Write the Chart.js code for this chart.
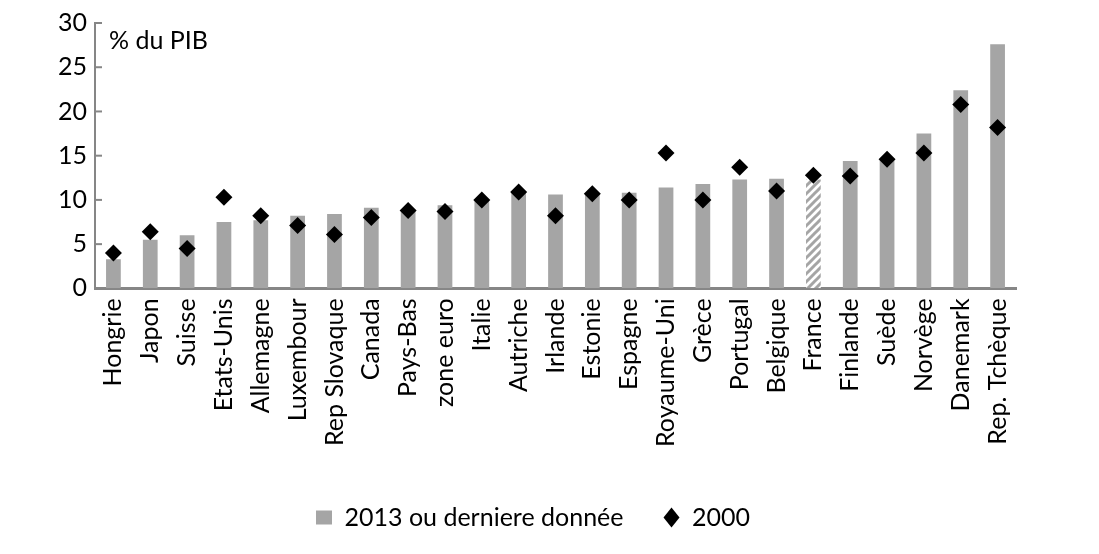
<!DOCTYPE html>
<html>
<head>
<meta charset="utf-8">
<style>
  html, body { margin: 0; padding: 0; background: #fff; }
  #wrap { width: 1099px; height: 554px; }
</style>
</head>
<body>
<div id="wrap"><canvas id="pibChart" width="1099" height="554"></canvas></div>
<script src="https://cdn.jsdelivr.net/npm/chart.js"></script>
<script>
  // donnees
  const pays = ['Hongrie', 'Japon', 'Suisse', 'Etats-Unis', 'Allemagne', 'Luxembour', 'Rep Slovaque',
    'Canada', 'Pays-Bas', 'zone euro', 'Italie', 'Autriche', 'Irlande', 'Estonie', 'Espagne',
    'Royaume-Uni', 'Grèce', 'Portugal', 'Belgique', 'France', 'Finlande', 'Suède', 'Norvège',
    'Danemark', 'Rep. Tchèque'];
  const val2013 = [3.3, 5.5, 6.0, 7.5, 7.7, 8.2, 8.4, 9.1, 8.9, 9.4, 9.9, 10.8, 10.6, 10.7, 10.8,
    11.4, 11.8, 12.3, 12.4, 12.3, 14.4, 14.5, 17.5, 22.4, 27.6];
  const val2000 = [4.0, 6.4, 4.5, 10.3, 8.2, 7.1, 6.1, 8.0, 8.8, 8.7, 10.0, 10.9, 8.2, 10.7, 10.0,
    15.3, 10.0, 13.7, 11.0, 12.8, 12.7, 14.6, 15.3, 20.8, 18.2];
  const yTicks = [0, 5, 10, 15, 20, 25, 30];
  const barLabel = '2013 ou derniere donnée';
  const pointLabel = '2000';
  const hachure = 'France';

  const fontFamily = 'Lato, "Open Sans", sans-serif';
  const taille = 25;
  const gris = '#A5A5A5';
  const axeGris = '#868686';

  // motif hachure pour la France
  function makePattern() {
    const c = document.createElement('canvas');
    c.width = 8; c.height = 8;
    const g = c.getContext('2d');
    g.fillStyle = '#fff';
    g.fillRect(0, 0, 8, 8);
    g.strokeStyle = gris;
    g.lineWidth = 3;
    g.beginPath();
    g.moveTo(-2, 10); g.lineTo(10, -2);
    g.moveTo(-2, 2); g.lineTo(2, -2);
    g.moveTo(6, 10); g.lineTo(10, 6);
    g.stroke();
    return g.createPattern(c, 'repeat');
  }
  const ctx = document.getElementById('pibChart').getContext('2d');
  const pattern = makePattern();
  const barColors = pays.map(p => p === hachure ? pattern : gris);

  // petits traits de graduation vers l'interieur + texte "% du PIB"
  const decor = {
    id: 'decor',
    afterDraw(chart) {
      const y = chart.scales.y;
      const area = chart.chartArea;
      const c = chart.ctx;
      c.save();
      c.strokeStyle = axeGris;
      c.lineWidth = 2;
      yTicks.forEach(t => {
        const py = y.getPixelForValue(t);
        c.beginPath();
        c.moveTo(area.left, py);
        c.lineTo(area.left + 7, py);
        c.stroke();
      });
      c.fillStyle = '#000';
      c.font = taille + 'px ' + fontFamily;
      c.textBaseline = 'middle';
      c.fillText('% du PIB', area.left + 14, y.getPixelForValue(28));
      c.restore();
    }
  };

  new Chart(ctx, {
    data: {
      labels: pays,
      datasets: [
        {
          type: 'line',
          label: pointLabel,
          data: val2000,
          showLine: false,
          pointStyle: 'rectRot',
          pointRadius: 8.5,
          pointHoverRadius: 8.5,
          backgroundColor: '#000',
          borderColor: '#000',
          borderWidth: 0,
          order: 0
        },
        {
          type: 'bar',
          label: barLabel,
          data: val2013,
          backgroundColor: barColors,
          borderWidth: 0,
          barPercentage: 0.4,
          categoryPercentage: 1.0,
          pointStyle: 'rect',
          order: 1
        }
      ]
    },
    options: {
      responsive: false,
      animation: false,
      layout: { padding: { left: 50, right: 83, top: 12, bottom: 14 } },
      plugins: {
        tooltip: { enabled: false },
        legend: {
          position: 'bottom',
          reverse: true,
          labels: {
            usePointStyle: true,
            pointStyleWidth: 16,
            boxHeight: 14,
            padding: 40,
            color: '#000',
            font: { family: fontFamily, size: taille },
            generateLabels(chart) {
              const items = Chart.defaults.plugins.legend.labels.generateLabels(chart);
              items.forEach(it => {
                it.fillStyle = it.text === barLabel ? gris : '#000';
                it.strokeStyle = it.fillStyle;
                it.lineWidth = 0;
              });
              return items;
            }
          }
        }
      },
      scales: {
        x: {
          grid: { display: false, drawTicks: false },
          border: { color: axeGris, width: 3 },
          afterFit(scale) { scale.height += 8; },
          ticks: {
            color: '#000',
            font: { family: fontFamily, size: taille },
            minRotation: 90,
            maxRotation: 90,
            padding: 10,
            autoSkip: false
          }
        },
        y: {
          min: 0,
          max: 30,
          afterBuildTicks(scale) {
            scale.ticks = yTicks.map(v => ({ value: v }));
          },
          grid: { display: false, drawTicks: false },
          border: { color: axeGris, width: 2 },
          ticks: {
            color: '#000',
            font: { family: fontFamily, size: taille },
            padding: 8
          }
        }
      }
    },
    plugins: [decor]
  });
</script>
</body>
</html>
